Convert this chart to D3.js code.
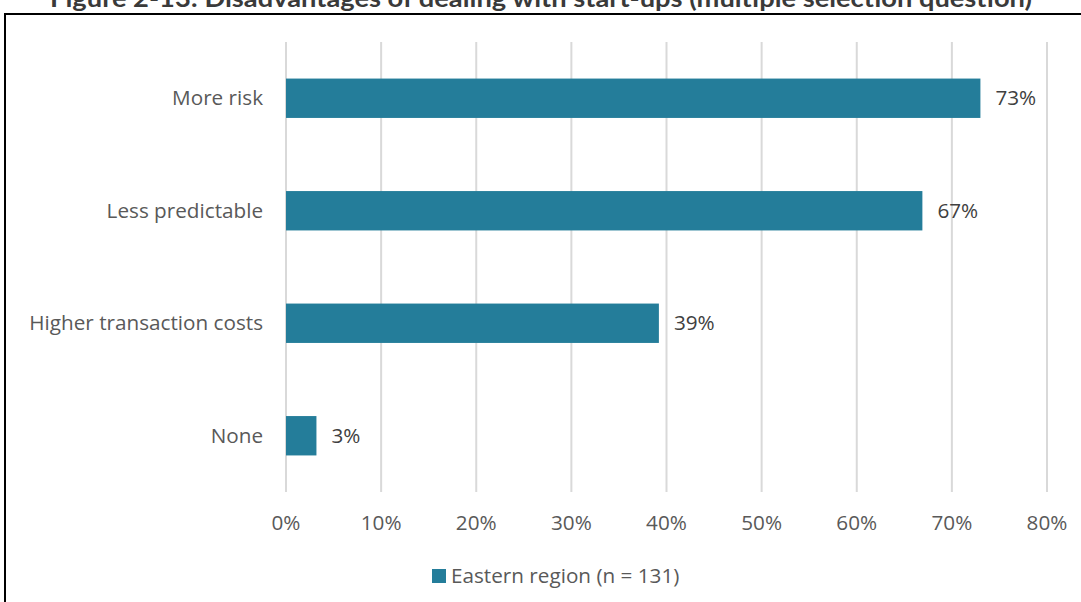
<!DOCTYPE html>
<html><head><meta charset="utf-8">
<script src="https://cdn.jsdelivr.net/npm/d3@7"></script>
<style>body{margin:0;background:#fff}svg{display:block}</style>
</head><body><svg id="c" width="1081" height="602"></svg>
<script>
const categories = ["More risk","Less predictable","Higher transaction costs","None"];
const values = [73.0, 66.9, 39.2, 3.2];
const valueLabels = ["73%","67%","39%","3%"];
const xTicks = [0,10,20,30,40,50,60,70,80];
const seriesName = "Eastern region (n = 131)";
const title = "Figure 2-13: Disadvantages of dealing with start-ups (multiple selection question)";

const svg = d3.select("#c");
const W=1081,H=602;
const color="#247D9A", txt="#595959", font="'Open Sans', sans-serif", fs=20.7;

// title (cut off at top, as in the source)
svg.append("text").attr("x",50).attr("y",7)
  .attr("font-family","'Lato', 'Liberation Sans', sans-serif").attr("font-weight","bold")
  .attr("font-size",25).attr("fill","#3a3a3a")
  .attr("textLength",982).attr("lengthAdjust","spacingAndGlyphs").text(title);
// frame
svg.append("path").attr("d",`M5,${H+2} V14 H${W+2}`).attr("fill","none").attr("stroke","#000").attr("stroke-width",2);

const x = d3.scaleLinear().domain([0,80]).range([286,1047]);
const y = d3.scaleBand().domain(categories).range([42,492]).paddingInner(0.65).paddingOuter(0.325);

svg.append("g").selectAll("line").data(xTicks).join("line")
  .attr("x1",d=>x(d)).attr("x2",d=>x(d)).attr("y1",42).attr("y2",492)
  .attr("stroke","#d9d9d9").attr("stroke-width",2);

svg.append("g").selectAll("rect").data(values).join("rect")
  .attr("x",x(0)).attr("y",(d,i)=>y(categories[i])).attr("width",d=>x(d)-x(0))
  .attr("height",y.bandwidth()).attr("fill",color);

svg.append("g").selectAll("text").data(values).join("text")
  .attr("x",d=>x(d)+15).attr("y",(d,i)=>y(categories[i])+y.bandwidth()/2).attr("dy","0.35em")
  .attr("font-family",font).attr("font-size",fs).attr("fill","#404040").text((d,i)=>valueLabels[i]);

svg.append("g").selectAll("text").data(categories).join("text")
  .attr("x",263).attr("y",d=>y(d)+y.bandwidth()/2).attr("dy","0.35em").attr("text-anchor","end")
  .attr("font-family",font).attr("font-size",fs).attr("fill",txt).text(d=>d);

svg.append("g").selectAll("text").data(xTicks).join("text")
  .attr("x",d=>x(d)).attr("y",523).attr("dy","0.35em").attr("text-anchor","middle")
  .attr("font-family",font).attr("font-size",fs).attr("fill",txt).text(d=>d+"%");

const lg = svg.append("g");
lg.append("rect").attr("x",432).attr("y",569).attr("width",14).attr("height",14).attr("fill",color);
lg.append("text").attr("x",451).attr("y",576).attr("dy","0.35em").attr("font-family",font)
  .attr("font-size",fs).attr("fill",txt).text(seriesName);
</script></body></html>
